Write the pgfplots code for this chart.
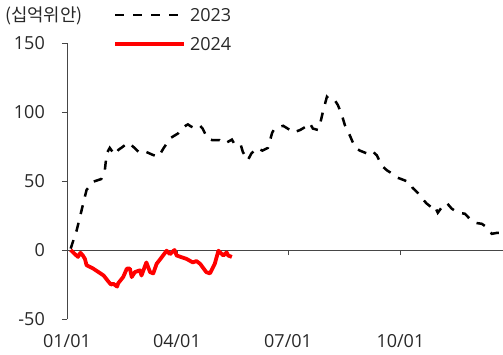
\documentclass[border=0pt]{standalone}
\usepackage{fontspec}
\setmainfont{Open Sans}
\newfontfamily\kr{Noto Sans CJK KR}
\usepackage{pgfplots}
\pgfplotsset{compat=1.18}
\definecolor{pred}{RGB}{255,0,0}
\definecolor{txt}{RGB}{40,40,40}
\definecolor{axl}{RGB}{70,70,70}

\pgfplotstableread{
d v
3 1
8 14.5
12 29
16 43.5
21.5 49.5
28 51.4
31 58
32.5 70
35 74
39 69
42 72.5
46 75
50 77.8
54 75
60 70
65 71
70.6 68.8
75 67.6
79 73.7
84.5 81
91 84.5
95 89
99 91
101 89.8
105 88
109 90
111 88
115 81
119 79.6
125 79.6
129 77
135 80
137 77
142 77
144 71
148 65
151 70
155.5 74
160 72
164.5 74
168 85
170 88
177 90
182.5 87
185 85
191 87
194.8 89
198.8 92
201.3 88
205.4 87
207 90.5
209.5 100
212.8 111
215 109
219 109
221.8 105
225 98
227.5 90.5
231.6 83
235.7 74.5
239.8 72
245.5 70
249.6 72
253.7 68.6
257.8 61
262 57.7
266 55.5
270 52.5
272.5 51.8
280.7 49
283 45
287 41.6
291 37
294.6 33.6
298.7 30.7
301 32
303.6 27
307.7 32
311 34
315 30
320 27
325.7 26.3
329.8 22.6
334 19.7
339.6 19
344.5 16
347.8 11.7
351.9 12.4
357 12.4
}\dataA

\pgfplotstableread{
d v
3 0
6.5 -3
9 -5
11 -2
13 -4
14.7 -6.5
16 -11
21.5 -13.5
30 -18.5
34 -23
36 -25
38 -24.5
41 -26.5
42 -24
46 -19.6
49 -13.5
51.5 -13.5
53 -19.6
55.6 -16
59.7 -14.7
61 -18.5
65 -9
68 -16
70.6 -17
73.4 -10
77.5 -5.3
81.6 -0.5
84.3 -3
88 0
89.8 -4
98 -6.5
103 -9
106 -8
109 -10
114 -16
117 -17
121 -10
124 -0.5
128 -4
130.7 -1.7
132 -4
135 -5
}\dataB

\begin{document}
\begin{tikzpicture}[font=\fontsize{18bp}{21bp}\selectfont, text=txt]
\path[use as bounding box] (0,0) rectangle (503bp,355bp);
\begin{axis}[
  at={(67bp,36bp)}, anchor=south west,
  scale only axis, width=436bp, height=276bp,
  xmin=0, xmax=357, ymin=-50, ymax=150,
  axis y line*=left, axis x line*=middle,
  axis line style={axl, line width=0.8bp},
  hide obscured x ticks=false,
  ytick={-50,0,50,100,150},
  xtick={0,90,181,273},
  xticklabels={01/01,04/01,07/01,10/01},
  tick align=outside, major tick length=5bp,
  tick style={axl, line width=0.8bp},
  minor tick num=0,
  /pgf/number format/assume math mode=true,
  yticklabel style={inner sep=0pt, anchor=east, xshift=-17bp, text=txt},
  xticklabel style={inner sep=0pt, anchor=north, yshift=-79bp, text=txt},
  clip=true,
  legend style={at={(0,1)}, anchor=north west, xshift=46bp, yshift=34.45bp,
    draw=none, fill=none, inner sep=0pt, row sep=16.1bp,
    nodes={inner sep=0pt, text height=12.9bp, text depth=0pt, text=txt},
    /tikz/every odd column/.append style={column sep=4bp}},
  legend cell align=left,
  legend image code/.code={\draw[#1] (0bp,0bp) -- (69bp,0bp);},
]
\addplot[black, line width=2.5bp, dash pattern=on 9bp off 9bp] table[x=d,y=v] {\dataA};
\addlegendentry{2023}
\addplot[pred, line width=3.8bp, line join=round] table[x=d,y=v] {\dataB};
\addlegendentry{2024}
\end{axis}
\node[anchor=west, inner sep=0pt, text=txt] at (5bp,339bp) {\kr\fontsize{17.8bp}{20bp}\selectfont (십억위안)};
\end{tikzpicture}
\end{document}
